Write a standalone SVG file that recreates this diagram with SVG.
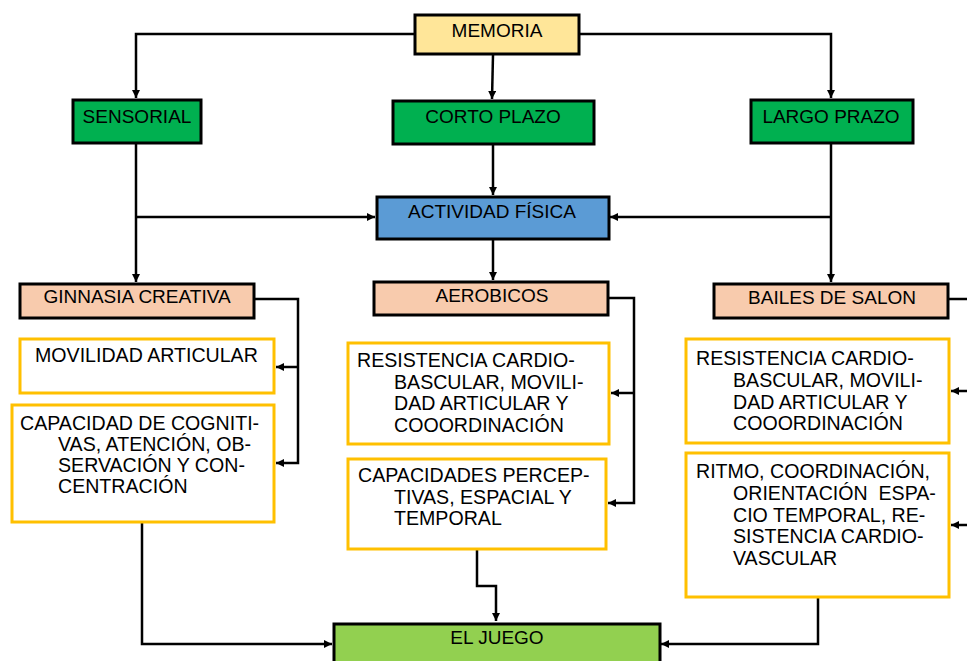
<svg xmlns="http://www.w3.org/2000/svg" width="967" height="661" viewBox="0 0 967 661">
<defs>
<marker id="ah" viewBox="0 0 10 10" refX="10" refY="5" markerWidth="9" markerHeight="8" orient="auto" markerUnits="userSpaceOnUse"><path d="M0,0 L10,5 L0,10 z" fill="#000"/></marker>
<style>
.hd{stroke:#000;stroke-width:3}
.yb{fill:#fff;stroke:#FFC000;stroke-width:3}
text{font-family:"Liberation Sans",Arial,sans-serif;font-size:19px;fill:#000}
.t text{font-size:19.6px}
.c{text-anchor:middle}
.ln{fill:none;stroke:#000;stroke-width:2.5}
.ar{marker-end:url(#ah)}
</style>
</defs>
<rect width="967" height="661" fill="#fff"/>
<g id="connectors">
<path class="ln ar" d="M414,34 H136 V98"/>
<path class="ln ar" d="M493,55 L492,99"/>
<path class="ln ar" d="M580,34 H831 V98"/>
<path class="ln ar" d="M493,145 V195"/>
<path class="ln ar" d="M136,217 H375"/>
<path class="ln ar" d="M831,217 H610"/>
<path class="ln ar" d="M136,144 V282"/>
<path class="ln ar" d="M493,240 V280"/>
<path class="ln ar" d="M831,144 V282"/>
<path class="ln ar" d="M255,299 H298 V463 H276"/>
<path class="ln ar" d="M298,367 H276"/>
<path class="ln ar" d="M609,298 H634 V503 H608"/>
<path class="ln ar" d="M634,393 H611"/>
<path class="ln" d="M949,299 H967"/>
<path class="ln ar" d="M967,391 H951"/>
<path class="ln ar" d="M967,525 H951"/>
<path class="ln ar" d="M142,523 V644 H332"/>
<path class="ln ar" d="M477,550 V586 H496 V621"/>
<path class="ln ar" d="M818,598 V644 H661"/>
</g>
<g id="memoria"><rect class="hd" x="415" y="15" width="164" height="39" fill="#FFE699"/><text class="c" x="497" y="37">MEMORIA</text></g>
<g id="sensorial"><rect class="hd" x="73" y="100" width="128" height="43" fill="#00B050"/><text class="c" x="137" y="123">SENSORIAL</text></g>
<g id="corto"><rect class="hd" x="393" y="101" width="201" height="43" fill="#00B050"/><text class="c" x="493" y="123">CORTO PLAZO</text></g>
<g id="largo"><rect class="hd" x="751" y="100" width="162" height="43" fill="#00B050"/><text class="c" x="831" y="123">LARGO PRAZO</text></g>
<g id="actividad"><rect class="hd" x="377" y="197" width="232" height="42" fill="#5B9BD5"/><text class="c" x="492" y="218">ACTIVIDAD FÍSICA</text></g>
<g id="ginnasia"><rect class="hd" x="20" y="284" width="234" height="34" fill="#F8CBAD"/><text class="c" x="137" y="303">GINNASIA CREATIVA</text></g>
<g id="aerobicos"><rect class="hd" x="374" y="282" width="234" height="33" fill="#F8CBAD"/><text class="c" x="492" y="302">AEROBICOS</text></g>
<g id="bailes"><rect class="hd" x="714" y="284" width="234" height="34" fill="#F8CBAD"/><text class="c" x="832" y="304">BAILES DE SALON</text></g>
<g id="movilidad" class="t"><rect class="yb" x="20" y="339" width="254" height="54"/><text x="35" y="362">MOVILIDAD ARTICULAR</text></g>
<g id="capacidad" class="t"><rect class="yb" x="12" y="405" width="262" height="117"/>
<text x="20" y="430">CAPACIDAD DE COGNITI-</text>
<text x="58" y="451">VAS, ATENCIÓN, OB-</text>
<text x="58" y="472">SERVACIÓN Y CON-</text>
<text x="58" y="493">CENTRACIÓN</text></g>
<g id="resistencia-aero" class="t"><rect class="yb" x="348" y="343" width="261" height="101"/>
<text x="357" y="367">RESISTENCIA CARDIO-</text>
<text x="394" y="389">BASCULAR, MOVILI-</text>
<text x="394" y="410">DAD ARTICULAR Y</text>
<text x="394" y="432">COOORDINACIÓN</text></g>
<g id="capacidades" class="t"><rect class="yb" x="348" y="459" width="258" height="90"/>
<text x="358" y="482">CAPACIDADES PERCEP-</text>
<text x="394" y="504">TIVAS, ESPACIAL Y</text>
<text x="394" y="525">TEMPORAL</text></g>
<g id="resistencia-bailes" class="t"><rect class="yb" x="686" y="339" width="263" height="104"/>
<text x="696" y="365">RESISTENCIA CARDIO-</text>
<text x="733" y="387">BASCULAR, MOVILI-</text>
<text x="733" y="409">DAD ARTICULAR Y</text>
<text x="733" y="430">COOORDINACIÓN</text></g>
<g id="ritmo" class="t"><rect class="yb" x="686" y="453" width="263" height="144"/>
<text x="696" y="478">RITMO, COORDINACIÓN,</text>
<text x="733" y="500" xml:space="preserve" style="white-space:pre">ORIENTACIÓN  ESPA-</text>
<text x="733" y="522">CIO TEMPORAL, RE-</text>
<text x="733" y="543">SISTENCIA CARDIO-</text>
<text x="733" y="565">VASCULAR</text></g>
<g id="eljuego"><rect class="hd" x="334" y="624" width="326" height="50" fill="#92D050"/><text class="c" x="497" y="644">EL JUEGO</text></g>
</svg>
